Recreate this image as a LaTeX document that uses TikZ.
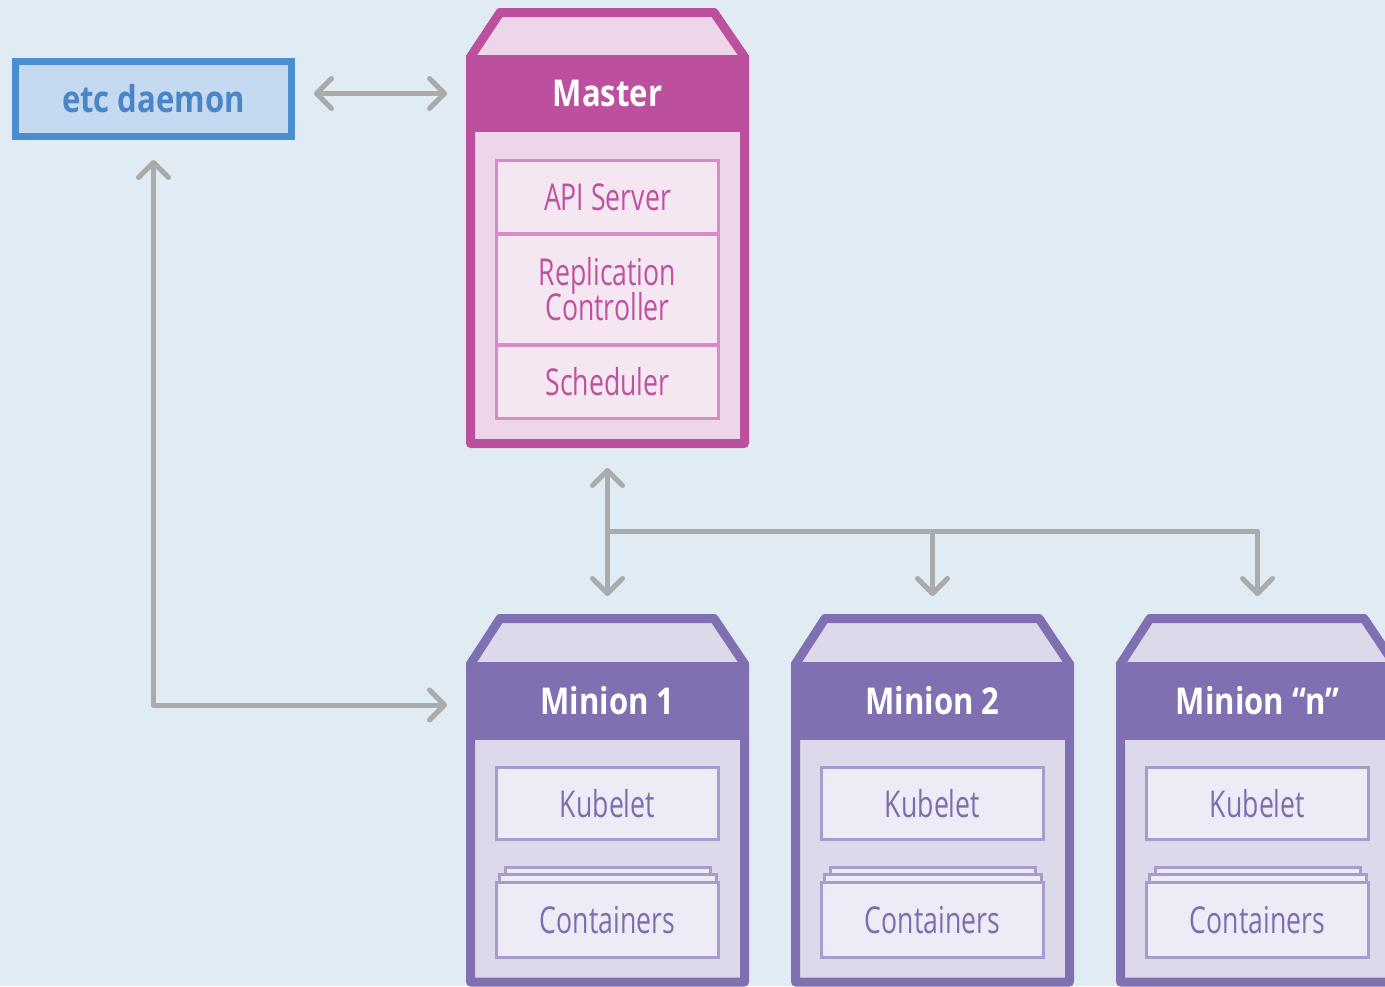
\documentclass[tikz,border=0pt]{standalone}
\usepackage{fontspec}
\setmainfont{Open Sans}
\newfontfamily\condb{Open Sans}[FakeStretch=0.84]
\newfontfamily\condl{Open Sans}[FakeStretch=0.72]
\usetikzlibrary{arrows.meta,calc}
\definecolor{bg}{HTML}{E1EBF4}
\definecolor{mag}{HTML}{BD509E}
\definecolor{magbody}{HTML}{EDD6E9}
\definecolor{magbox}{HTML}{F4E7F1}
\definecolor{magline}{HTML}{D98BC8}
\definecolor{magtext}{HTML}{BE529F}
\definecolor{pur}{HTML}{8070B2}
\definecolor{purbody}{HTML}{DCD9EA}
\definecolor{purbox}{HTML}{EDEBF5}
\definecolor{purline}{HTML}{A89CCE}
\definecolor{purtext}{HTML}{7C6EAE}
\definecolor{etcb}{HTML}{4A8ED0}
\definecolor{etcf}{HTML}{C5DAF0}
\definecolor{etct}{HTML}{4A86C5}
\definecolor{arrg}{HTML}{ABABAB}
\tikzset{
  arr/.style={draw=arrg, line width=5, line join=round,
    arrows={Straight Barb[length=15pt,width=30pt,round]-Straight Barb[length=15pt,width=30pt,round]}},
  arrone/.style={draw=arrg, line width=5, line join=round,
    arrows={-Straight Barb[length=15pt,width=30pt,round]}},
  title/.style={text=white, font=\condb\bfseries\fontsize{37}{40}\selectfont, inner sep=0},
  mbox/.style={draw=magline, fill=magbox, line width=3, inner sep=0, minimum width=222,
    text=magtext, align=center, font=\condl\fontsize{37}{37}\selectfont},
  pbox/.style={draw=purline, fill=purbox, line width=3, inner sep=0, minimum width=222,
    text=purtext, align=center, font=\condl\fontsize{37}{37}\selectfont},
  holder/.style={inner sep=0, outer sep=0, draw=none},
}
\begin{document}
\begin{tikzpicture}[x=1pt,y=-1pt]
\useasboundingbox (0,0) rectangle (1385,986);
\fill[bg] (0,0) rectangle (1385,986);
\begin{scope}
\clip (0,0) rectangle (1385,986);

% etc daemon
\node[draw=etcb, line width=7, fill=etcf, minimum width=276, minimum height=75, inner sep=0,
  text=etct, font=\condb\bfseries\fontsize{37}{40}\selectfont] (etc) at (153.5,99) {etc daemon};

% Master
\node[holder, minimum width=283, minimum height=440, anchor=north west] (master) at (466,8) {};
\draw[line width=9, draw=mag, fill=magbody, line join=round]
  (470.5,443.5) -- (470.5,57) -- (500,12.5) -- (714,12.5) -- (744.5,57) -- (744.5,443.5) -- cycle;
\node[holder, fill=mag, minimum width=283, minimum height=77, anchor=north west] (mt) at (466,55) {};
\node[title] at (mt) {Master};
\node[mbox, minimum height=73] (api) at (607.5,197) {API Server};
\node[mbox, minimum height=110, font=\condl\fontsize{37}{37}\selectfont] (rep) at (607.5,289.5) {Replication\\[-2pt]Controller};
\node[mbox, minimum height=73] (sch) at (607.5,381.5) {Scheduler};

% Minions
\foreach \i/\dx/\lab in {1/0/Minion 1, 2/325/Minion 2, 3/650/Minion “n”}{
  \begin{scope}[xshift=\dx]
    \node[holder, minimum width=283, minimum height=372, anchor=north west] (m\i) at (466,614) {};
    \draw[line width=9, draw=pur, fill=purbody, line join=round]
      (470.5,982) -- (470.5,664) -- (500,618.5) -- (714,618.5) -- (744.5,664) -- (744.5,982) -- cycle;
    \node[holder, fill=pur, minimum width=283, minimum height=78, anchor=north west] (m\i t) at (466,662) {};
    \node[title] at (m\i t) {\lab};
    \node[pbox, minimum height=72] (k\i) at (607.5,803.5) {Kubelet};
    \draw[draw=purline, fill=purbox, line width=3] (505.5,867.5) rectangle (710.5,880);
    \draw[draw=purline, fill=purbox, line width=3] (499.5,874.5) rectangle (716.5,886);
    \node[pbox, minimum height=75] (c\i) at (607.5,920) {Containers};
  \end{scope}
}

% connectors
\draw[arr, shorten <=19pt, shorten >=19pt] (etc.east |- mt.west) -- (mt.west);
\draw[arr, shorten <=20pt, shorten >=19pt] (etc.south) |- ($(m1t.west)+(0,4)$);
\draw[arr, shorten <=20pt, shorten >=18pt] (master.south) -- (m1.north);
\coordinate (br) at ($(master.south)!0.5!(m1.north)$);
\draw[arrone, shorten >=18pt] (br) -| (m3.north);
\draw[arrone, shorten >=18pt] (br -| m2.north) -- (m2.north);
\end{scope}
\end{tikzpicture}
\end{document}
